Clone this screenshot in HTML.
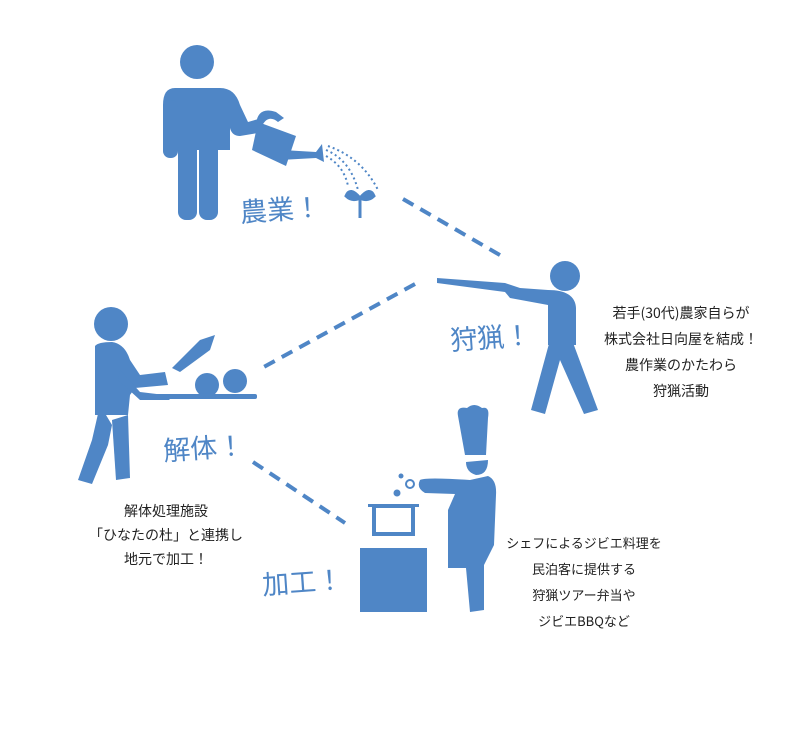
<!DOCTYPE html>
<html><head><meta charset="utf-8"><style>
body{margin:0;background:#fff;}
svg{display:block}
.t{font-family:"Liberation Sans","Noto Sans CJK JP",sans-serif;}
.j{font-family:"Noto Sans CJK JP",sans-serif;}
</style></head><body>
<svg width="789" height="745" viewBox="0 0 789 745" xmlns="http://www.w3.org/2000/svg">
<g fill="#4f86c6" stroke="none">
<!-- farmer -->
<circle cx="197" cy="62" r="17"/>
<path d="M175 88 H220 Q235 88 240 105 L248 122 L262 118 L264 132 L240 136 Q232 136 230 128 L230 150 L163 150 L163 105 Q163 88 175 88Z"/>
<rect x="163" y="100" width="15" height="58" rx="7"/>
<rect x="178" y="140" width="19" height="80" rx="8"/>
<rect x="199" y="140" width="19" height="80" rx="8"/>
<path d="M258 122 L296 136 L286 166 L252 150 Z"/>
<path d="M256 124 Q258 106 276 112 L284 118 L278 122 Q268 114 262 126Z"/>
<path d="M282 150 L316 152 L322 144 L324 162 L316 158 L280 160Z"/>
<path d="M360 218 L360 198 M360 198 Q350 186 346 196 Q352 202 360 198 Q370 186 374 196 Q368 202 360 198" stroke="#4f86c6" stroke-width="3" fill="#4f86c6"/>
<!-- hunter -->
<circle cx="565" cy="276" r="15"/>
<path d="M437 278 L505 283 L520 288 L548 290 Q575 290 576 308 L576 345 L548 345 L548 305 L510 298 L505 292 L437 283Z"/>
<path d="M550 340 L572 340 L598 410 L584 414 L560 360 L545 414 L531 410Z"/>
<!-- butcher -->
<circle cx="111" cy="324" r="17"/>
<path d="M95 346 Q98 342 112 342 Q125 344 130 360 L140 375 L165 372 L168 385 L135 388 L130 395 L128 415 L95 415Z"/>
<path d="M100 405 L92 440 L78 480 L92 484 L108 445 L112 425 Z"/>
<path d="M112 420 L128 415 L130 478 L116 480Z"/>
<path d="M172 368 L200 340 L215 335 L210 350 L180 372Z"/>
<path d="M120 370 L140 392 L165 395 L170 400 L140 400 L118 380Z"/>
<rect x="145" y="394" width="112" height="5" rx="2"/>
<circle cx="207" cy="385" r="12"/>
<circle cx="235" cy="381" r="12"/>
<!-- chef -->
<path d="M458 416 Q456 406 467 408 Q474 402 482 408 Q490 406 488 418 L486 455 L465 455Z"/>
<path d="M466 462 L488 460 Q488 475 476 475 Q466 472 466 462Z"/>
<path d="M420 480 Q425 477 470 480 L488 476 Q497 480 496 495 L494 545 L484 565 L484 610 L470 612 L466 568 L448 568 L448 510 L455 494 L425 493 Q416 488 420 480Z"/>
<circle cx="397" cy="493" r="3.5"/>
<circle cx="410" cy="484" r="4" fill="none" stroke="#4f86c6" stroke-width="2"/>
<circle cx="401" cy="476" r="2.5"/>
<rect x="374" y="506" width="39" height="28" fill="none" stroke="#4f86c6" stroke-width="4"/>
<rect x="368" y="504" width="51" height="3"/>
<rect x="360" y="548" width="67" height="64"/>
</g>
<g fill="none" stroke="#4f86c6" stroke-width="2" stroke-dasharray="2 3">
<path d="M326 150 Q350 160 358 190"/><path d="M326 156 Q344 166 348 186"/><path d="M328 146 Q362 158 378 190"/>
</g>
<g stroke="#4f86c6" stroke-width="4" stroke-dasharray="12 8" fill="none">
<line x1="403" y1="199" x2="505" y2="258"/>
<line x1="415" y1="284" x2="262" y2="368"/>
<line x1="253" y1="462" x2="345" y2="523"/>
</g>
<g class="j" fill="#4f86c6" font-size="27">
<text x="240" y="220" transform="rotate(-4 270 210)">農業！</text>
<text x="450" y="348" transform="rotate(-4 480 335)">狩猟！</text>
<text x="163" y="458" transform="rotate(-4 200 445)">解体！</text>
<text x="262" y="592" transform="rotate(-4 300 580)">加工！</text>
</g>
<g class="j" fill="#222" font-size="14" text-anchor="middle">
<text x="681" y="318">若手(30代)農家自らが</text>
<text x="681" y="344">株式会社日向屋を結成！</text>
<text x="681" y="370">農作業のかたわら</text>
<text x="681" y="396">狩猟活動</text>
<text x="166" y="516">解体処理施設</text>
<text x="166" y="540">「ひなたの杜」と連携し</text>
<text x="166" y="564">地元で加工！</text>
<text x="584" y="548" font-size="13">シェフによるジビエ料理を</text>
<text x="584" y="574" font-size="13">民泊客に提供する</text>
<text x="584" y="600" font-size="13">狩猟ツアー弁当や</text>
<text x="584" y="626" font-size="13">ジビエBBQなど</text>
</g>
</svg>
</body></html>
